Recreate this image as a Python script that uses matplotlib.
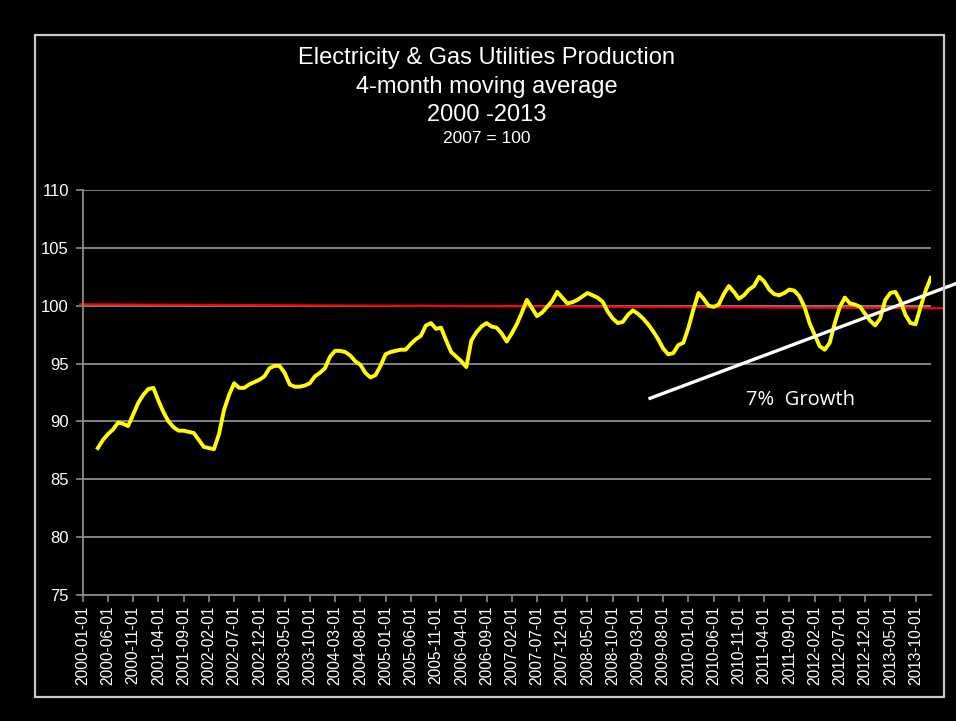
import matplotlib
matplotlib.use("Agg")
import matplotlib.pyplot as plt
import matplotlib.patches as mpatches
import numpy as np
import pandas as pd

# ---- data -------------------------------------------------------------
months = [d.strftime("%Y-%m-%d") for d in pd.date_range("2000-01-01", "2014-01-01", freq="MS")]
first_valid = 3  # 4-month moving average starts in 2000-04
values = [
    87.7, 88.4, 88.9, 89.3, 89.9, 89.8, 89.6, 90.6, 91.6, 92.3,
    92.8, 92.9, 91.8, 90.8, 90.0, 89.5, 89.2, 89.2, 89.1, 89.0,
    88.4, 87.8, 87.7, 87.6, 88.9, 91.0, 92.3, 93.3, 92.9, 92.9,
    93.2, 93.4, 93.6, 93.9, 94.6, 94.8, 94.8, 94.2, 93.2, 93.0,
    93.0, 93.1, 93.3, 93.9, 94.2, 94.6, 95.6, 96.1, 96.1, 96.0,
    95.7, 95.2, 94.9, 94.2, 93.8, 94.0, 94.8, 95.8, 96.0, 96.1,
    96.2, 96.2, 96.7, 97.1, 97.4, 98.3, 98.5, 98.0, 98.1, 97.0,
    96.0, 95.6, 95.2, 94.7, 97.0, 97.7, 98.2, 98.5, 98.2, 98.1,
    97.6, 96.9, 97.6, 98.4, 99.4, 100.5, 99.8, 99.1, 99.4, 99.9,
    100.4, 101.2, 100.7, 100.2, 100.3, 100.5, 100.8, 101.1, 100.9, 100.7,
    100.35, 99.5, 98.9, 98.5, 98.6, 99.2, 99.6, 99.3, 98.9, 98.4,
    97.8, 97.1, 96.3, 95.8, 95.9, 96.6, 96.8, 98.1, 99.7, 101.1,
    100.6, 100.0, 99.9, 100.1, 101.0, 101.7, 101.2, 100.6, 100.9, 101.4,
    101.7, 102.5, 102.1, 101.4, 101.0, 100.9, 101.1, 101.4, 101.3, 100.8,
    99.9, 98.5, 97.5, 96.5, 96.2, 96.8, 98.5, 99.9, 100.7, 100.2,
    100.1, 99.9, 99.3, 98.7, 98.3, 98.9, 100.5, 101.1, 101.2, 100.4,
    99.2, 98.5, 98.4, 99.9, 101.3, 102.4,
]
label_step = 5
y_ticks = [75, 80, 85, 90, 95, 100, 105, 110]

# reference (red) line and hand-drawn trend line, in data units
ref_x = [-0.5, 170.6]
ref_y = [100.12, 99.78]
trend_x = [112.4, 176.0]
trend_y = [92.0, 102.4]

title_lines = ["Electricity & Gas Utilities Production", "4-month moving average", "2000 -2013"]
subtitle = "2007 = 100"
annotation = "7%  Growth"

# ---- figure -------------------------------------------------------------
W, H = 956, 721
fig = plt.figure(figsize=(W / 100, H / 100), dpi=100, facecolor="black")
plt.rcParams["font.family"] = ["Liberation Sans", "DejaVu Sans"]

# outer chart border
fig.patches.append(mpatches.Rectangle((35 / W, 1 - 697 / H), (944 - 35) / W, (697 - 35) / H,
                                      transform=fig.transFigure, fill=False,
                                      edgecolor="#c8c8c8", linewidth=1.6))

ax = fig.add_axes([82.7 / W, 1 - 595 / H, (930.7 - 82.7) / W, (595 - 190) / H])
ax.set_facecolor("black")

x = np.arange(first_valid, first_valid + len(values))
ax.set_xlim(0, len(months) - 1)
ax.set_ylim(75, 110)

for yt in y_ticks[1:]:
    ax.axhline(yt, color="#8c8c8c", linewidth=1.3, zorder=1)

ax.plot(ref_x, ref_y, color="#ff0000", linewidth=1.6, zorder=2, clip_on=False)
ax.plot(x, values, color="#ffff00", linewidth=2.8, zorder=3, solid_joinstyle="round")
ax.plot(trend_x, trend_y, color="white", linewidth=2.4, zorder=4, clip_on=False)

fig.text(801 / W, 1 - 400 / H, annotation, color="white", fontsize=14.5,
         family=["Open Sans", "DejaVu Sans"], ha="center", va="center")

for s in ["top", "right"]:
    ax.spines[s].set_visible(False)
for s in ["left", "bottom"]:
    ax.spines[s].set_color("#8c8c8c")
    ax.spines[s].set_linewidth(1.3)

tick_pos = list(range(0, len(months), label_step))
ax.set_xticks(tick_pos)
ax.set_xticklabels([months[i] for i in tick_pos], rotation=90, fontsize=11.2, color="white")
ax.set_yticks(y_ticks)
ax.set_yticklabels([str(v) for v in y_ticks], fontsize=12, color="white")
ax.tick_params(axis="both", colors="#8c8c8c", length=5, width=1.2, direction="out")
ax.tick_params(axis="x", labelcolor="white", pad=3)
ax.tick_params(axis="y", labelcolor="white", pad=5)

# titles
title_y = [58.3, 86.7, 115.0]
for t, yy in zip(title_lines, title_y):
    fig.text(487 / W, 1 - yy / H, t, color="white", fontsize=17, ha="center", va="center")
fig.text(487 / W, 1 - 138.3 / H, subtitle, color="white", fontsize=12.5, ha="center", va="center")

fig.savefig("out.png", dpi=100, facecolor="black")
